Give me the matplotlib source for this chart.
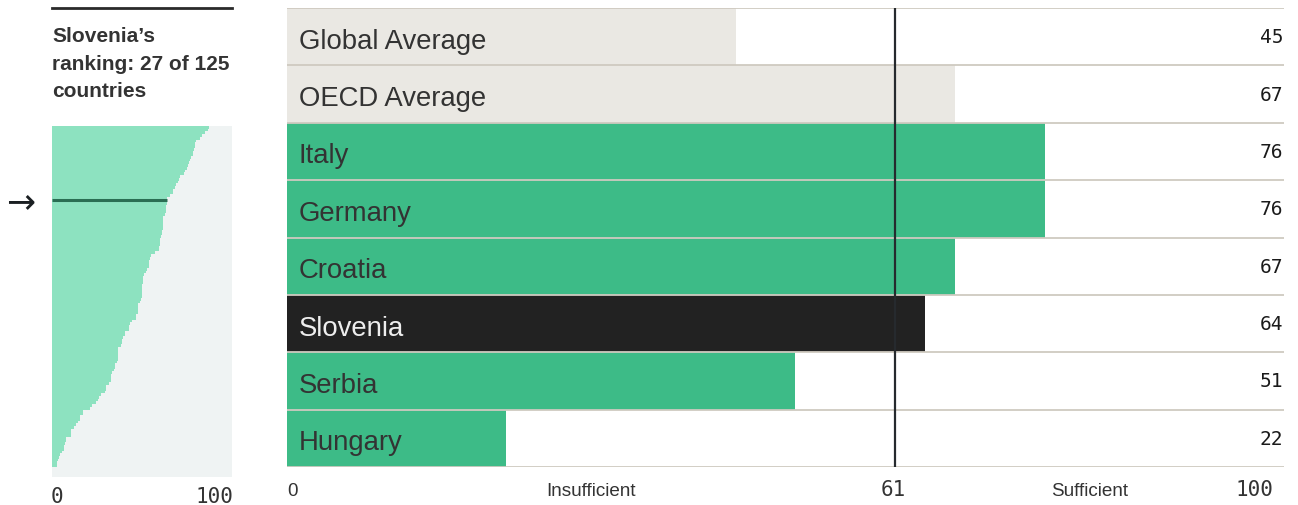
import matplotlib
matplotlib.use("Agg")
import matplotlib.pyplot as plt

# ---------------- data ----------------
categories = ["Global Average", "OECD Average", "Italy", "Germany", "Croatia",
              "Slovenia", "Serbia", "Hungary"]
scores = [45, 67, 76, 76, 67, 64, 51, 22]
threshold = 61
title_text = "Slovenia\u2019s\nranking: 27 of 125\ncountries"
rank = 27
n_countries = 125
# sorted scores of all 125 countries (distribution panel)
all_scores = [87, 86.5, 85, 83.5, 82, 80, 79.4, 79.4, 79, 78.5,
              78.3, 77, 76.5, 76, 75.5, 74.8, 73.9, 73.5, 71, 70.8,
              70, 68.7, 68.5, 67, 67, 65.5, 64, 64, 63.7, 63.5,
              63.1, 63.1, 62.8, 61.7, 61.7, 61.7, 61.7, 61.5, 61, 61,
              60.3, 60.2, 60.2, 60.1, 59.3, 59.3, 57, 55, 54.4, 53.8,
              53.7, 53.7, 52.5, 52, 51, 50.5, 50.5, 50.5, 50, 49.8,
              49.8, 49.8, 49.8, 49.6, 49, 47.8, 47.8, 47.8, 47.5, 46.7,
              46.7, 44.5, 43.5, 43, 43, 40.6, 40.6, 39.5, 38.7, 38.7,
              38.5, 36.8, 36.5, 36.5, 36.5, 36.5, 36, 35.2, 34.8, 34.3,
              33.5, 32.8, 32.8, 32.8, 31.5, 30, 30, 29.5, 27.2, 26.1,
              25.5, 24.3, 22, 21, 17.2, 17, 15.6, 15.3, 14.6, 13.3,
              12, 10.7, 10.7, 10.5, 7.6, 7.6, 7, 6.7, 6.5, 5.4,
              4.5, 3.9, 3.5, 3, 2.6]
bottom_labels = ["0", "Insufficient", "61", "Sufficient", "100"]
bottom_pos = [0, 30.5, 61, 80.5, 100]

# ---------------- style ----------------
W, H = 1298, 506
SANS = ["Liberation Sans", "DejaVu Sans"]
MONO = ["DejaVu Sans Mono"]
GREEN = "#3dbb87"
GREY_BAR = "#eae8e3"
SLO = "#222222"
SEP = "#cfcac0"
TXT = "#333333"

fig = plt.figure(figsize=(W / 100, H / 100), dpi=100)
fig.patch.set_facecolor("white")


def rect(x0, y0, x1, y1):
    return [x0 / W, 1 - y1 / H, (x1 - x0) / W, (y1 - y0) / H]


# ---------------- main panel ----------------
ax = fig.add_axes(rect(287, 9, 1284, 468))
n = len(categories)
colors = []
for c in categories:
    if "Average" in c:
        colors.append(GREY_BAR)
    elif c == "Slovenia":
        colors.append(SLO)
    else:
        colors.append(GREEN)
ypos = [i + 0.5 for i in range(n)]
ax.barh(ypos, scores, height=1.0, color=colors, zorder=1)
ax.set_xlim(0, 100)
ax.set_ylim(n, 0)
for i in range(n + 1):
    ax.axhline(i, color=SEP, lw=1.3, zorder=2)
ax.axvline(threshold, color="#262a2e", lw=1.6, zorder=3)
for y, c, s, col in zip(ypos, categories, scores, colors):
    tc = "#eeeeee" if col == SLO else TXT
    ax.text(1.2, y + 0.07, c, fontsize=19.8, family=SANS, color=tc,
            va="center", ha="left", zorder=4)
    ax.text(99.9, y, str(s), fontsize=14, family=MONO, color="#1a1a1a",
            va="center", ha="right", zorder=4)
ax.axis("off")

# bottom labels
for lab, p in zip(bottom_labels, bottom_pos):
    xf = (287 + p * 9.97) / W
    yf = 1 - 492 / H
    if lab in ("Insufficient", "Sufficient"):
        fig.text(xf, yf, lab, fontsize=13.6, family=SANS, color=TXT,
                 ha="center", va="center")
    elif lab == "0":
        fig.text(xf, yf, lab, fontsize=13.6, family=SANS, color=TXT,
                 ha="left", va="center")
    elif lab == "100":
        fig.text(1273 / W, 1 - 490 / H, lab, fontsize=15, family=MONO,
                 color=TXT, ha="right", va="center")
    else:
        fig.text(xf - 1.5 / W, 1 - 490 / H, lab, fontsize=15, family=MONO,
                 color=TXT, ha="center", va="center")

# ---------------- left distribution panel ----------------
ax2 = fig.add_axes(rect(52, 127, 232, 478))
ax2.set_facecolor("#eff3f3")
ax2.barh([i for i in range(n_countries)], all_scores, height=1.0,
         align="edge", color="#8de2c0", zorder=1)
ax2.set_xlim(0, 100)
ax2.set_ylim(n_countries + 3.7, 0)
slo_score = scores[categories.index("Slovenia")]
ax2.plot([0, slo_score], [rank, rank], color="#2a6e53", lw=2.2,
         solid_capstyle="butt", zorder=2)
for s in ax2.spines.values():
    s.set_visible(False)
ax2.set_xticks([])
ax2.set_yticks([])

fig.text(6 / W, 1 - 202 / H, "\u2192", fontsize=25, family=["DejaVu Sans"],
         color="#1a1f22", ha="left", va="center")

fig.text(51 / W, 1 - 497 / H, "0", fontsize=15, family=MONO, color=TXT,
         ha="left", va="center")
fig.text(233 / W, 1 - 497 / H, "100", fontsize=15, family=MONO, color=TXT,
         ha="right", va="center")

# title block
fig.add_artist(plt.Line2D([52 / W, 232 / W], [1 - 9 / H, 1 - 9 / H],
                          color="#2a2a2a", lw=2))
fig.text(52 / W, 1 - 27 / H, title_text, fontsize=15, family=SANS,
         weight="bold", color=TXT, ha="left", va="top", linespacing=1.57)

fig.savefig("out.png", dpi=100, facecolor="white")
